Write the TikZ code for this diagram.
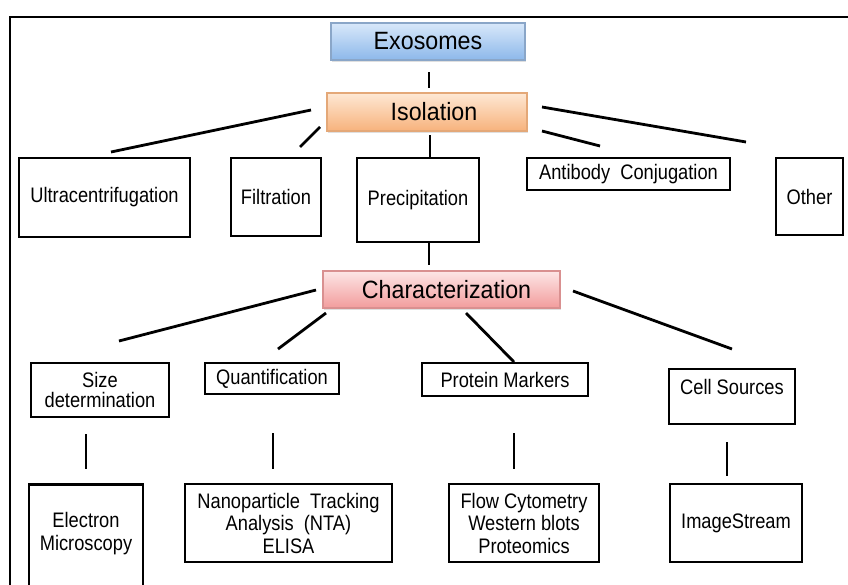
\documentclass[tikz,border=0pt]{standalone}
\usepackage{fontspec}
\setmainfont{Liberation Sans}
\newfontfamily\narrowfont[FakeStretch=0.87]{Liberation Sans}
\newfontfamily\headfont[FakeStretch=0.93]{Liberation Sans}
\usetikzlibrary{shadows}
\definecolor{exoTop}{HTML}{D8E8FA}
\definecolor{exoBot}{HTML}{8DB8EA}
\definecolor{exoLine}{HTML}{8AA6C8}
\definecolor{isoTop}{HTML}{FEE8D4}
\definecolor{isoBot}{HTML}{F7B27C}
\definecolor{isoLine}{HTML}{E4A878}
\definecolor{chrTop}{HTML}{FDE6E6}
\definecolor{chrBot}{HTML}{F29C9C}
\definecolor{chrLine}{HTML}{D99090}
\begin{document}
\begin{tikzpicture}[x=1pt,y=-1pt,
  plainbox/.style={draw=black, line width=2.6pt, fill=white, inner sep=0pt, align=center,
    font=\narrowfont\fontsize{21}{22.5}\selectfont},
  txt/.style={inner sep=0pt, align=center, font=\narrowfont\fontsize{21}{23}\selectfont},
  gradbox/.style={line width=1.1pt, inner sep=0pt, font=\headfont\fontsize{25}{28}\selectfont,
    drop shadow={shadow xshift=1.2pt, shadow yshift=-1.5pt, opacity=0.25}},
  conn/.style={line width=2.8pt}]
\useasboundingbox (0,0) rectangle (848,584);
\clip (0,0) rectangle (848,584);
\fill[white] (0,0) rectangle (848,584);
% outer frame
\draw[line width=2.2pt] (10,17) rectangle (870,620);

% top level
\node[gradbox, draw=exoLine, top color=exoTop, bottom color=exoBot,
  minimum width=194pt, minimum height=37pt] (exo) at (428,41.5) {Exosomes};
\node[gradbox, draw=isoLine, top color=isoTop, bottom color=isoBot,
  minimum width=200pt, minimum height=38pt] (iso) at (427,112) {\hspace*{14pt}Isolation};

% isolation methods
\node[plainbox, minimum width=171pt, minimum height=79pt] (ultra) at (104.5,197.5) {Ultracentrifugation};
\node[plainbox, minimum width=90pt, minimum height=78pt] (filt) at (276,197) {Filtration};
\node[plainbox, minimum width=122pt, minimum height=84pt] (prec) at (418,200) {Precipitation};
\node[plainbox, minimum width=203pt, minimum height=32pt] (anti) at (628.5,174) {Antibody~~Conjugation};
\node[plainbox, minimum width=67pt, minimum height=77pt] (other) at (809.5,196.5) {Other};

% characterization
\node[gradbox, draw=chrLine, top color=chrTop, bottom color=chrBot,
  minimum width=237pt, minimum height=37pt] (chr) at (441.5,289.5) {\hspace*{10pt}Characterization};

\node[plainbox, font=\narrowfont\fontsize{21}{20.5}\selectfont, minimum width=138pt, minimum height=54pt] (size) at (100,390) {Size\\determination};
\node[plainbox, minimum width=134pt, minimum height=31pt] (quant) at (272,378.5) {Quantification};
\node[plainbox, minimum width=166pt, minimum height=33pt] (prot) at (505,379.5) {Protein Markers};
\node[plainbox, minimum width=126pt, minimum height=55pt] (cell) at (732,396.5) {};
\node[txt] (celltxt) at (732,387) {Cell Sources};

% methods
\node[plainbox, minimum width=114pt, minimum height=130pt, anchor=north] (em) at (86,483) {};
\node[txt] (emtxt) at (86,533.5) {Electron\\Microscopy};
\node[plainbox, minimum width=207pt, minimum height=78pt] (nta) at (288.5,523)
  {Nanoparticle~~Tracking\\Analysis~~(NTA)\\ELISA};
\node[plainbox, minimum width=150pt, minimum height=78pt] (flow) at (524,523)
  {Flow Cytometry\\Western blots\\Proteomics};
\node[plainbox, minimum width=132pt, minimum height=78pt] (img) at (736,523) {ImageStream};

% connector end points
\coordinate (c1a) at (429,72);   \coordinate (c1b) at (429,88);
\coordinate (c2a) at (311,110);  \coordinate (c2b) at (111,152);
\coordinate (c3a) at (320,127);  \coordinate (c3b) at (300,147);
\coordinate (c4a) at (430,135);  \coordinate (c4b) at (430,157);
\coordinate (c5a) at (542,131);  \coordinate (c5b) at (600,146);
\coordinate (c6a) at (542,107);  \coordinate (c6b) at (746,142);
\coordinate (c7a) at (429,243);  \coordinate (c7b) at (429,265);
\coordinate (c8a) at (316,290);  \coordinate (c8b) at (119,341);
\coordinate (c9a) at (326,313);  \coordinate (c9b) at (278,349);
\coordinate (c10a) at (466,313); \coordinate (c10b) at (514,362);
\coordinate (c11a) at (573,291); \coordinate (c11b) at (732,349);
\coordinate (c12a) at (86,434);  \coordinate (c12b) at (86,469);
\coordinate (c13a) at (273,433); \coordinate (c13b) at (273,469);
\coordinate (c14a) at (514,433); \coordinate (c14b) at (514,469);
\coordinate (c15a) at (727,442); \coordinate (c15b) at (727,476);

\foreach \i in {1,...,15} {\draw[conn] (c\i a) -- (c\i b);}
\end{tikzpicture}
\end{document}
